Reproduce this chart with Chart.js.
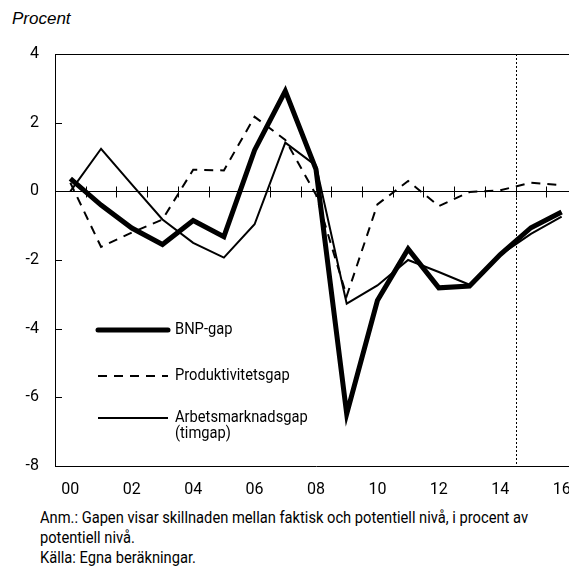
<!DOCTYPE html>
<html>
<head>
<meta charset="utf-8">
<script src="https://cdn.jsdelivr.net/npm/chart.js@4"></script>
<style>
  html, body { margin: 0; padding: 0; background: #fff; }
  body { width: 569px; height: 570px; overflow: hidden; position: relative; }
  #unit { position: absolute; left: 12px; top: 9px; font: italic 17px "Liberation Sans", Arial, sans-serif; color: #000; }
  #wrap { position: absolute; left: 0; top: 0; width: 578px; height: 506px; }
  #note { position: absolute; left: 40px; top: 508px; font: 16px Roboto, sans-serif; line-height: 20px; color: #000;
          white-space: nowrap; transform-origin: 0 0; }
</style>
</head>
<body>
<div id="unit">Procent</div>
<div id="wrap"><canvas id="gapChart" width="578" height="506"></canvas></div>
<div id="note"><span id="noteFirst">Anm.: Gapen visar skillnaden mellan faktisk och potentiell nivå, i procent av</span><br>potentiell nivå.<br>Källa: Egna beräkningar.</div>
<script>
// år 2000-2016
const years = ['00','01','02','03','04','05','06','07','08','09','10','11','12','13','14','15','16'];
const bnpGap  = [0.37, -0.40, -1.07, -1.55, -0.85, -1.32, 1.20, 2.92, 0.64, -6.48, -3.18, -1.68, -2.81, -2.76, -1.84, -1.06, -0.60];
const prodGap = [0.25, -1.62, -1.20, -0.82, 0.63, 0.61, 2.17, 1.50, -0.10, -3.05, -0.38, 0.30, -0.43, -0.02, 0.03, 0.25, 0.18];
const arbGap  = [0.00, 1.24, 0.20, -0.82, -1.50, -1.93, -0.96, 1.42, 0.75, -3.27, -2.74, -2.00, -2.35, -2.72, -1.85, -1.24, -0.74];
const forecastFrom = '15';   // prognos efter streckad linje

const textFont = 'Roboto, sans-serif';

// originalet har ett smalt typsnitt, vi trycker ihop Roboto lite
const note = document.getElementById('note');
const squeeze = 488 / document.getElementById('noteFirst').getBoundingClientRect().width;
note.style.transform = 'scaleX(' + squeeze + ')';

// nollinje, små streck, ram upptill och prognoslinje
const decorations = {
  id: 'decorations',
  beforeDatasetsDraw(chart) {
    const { ctx, chartArea: a, scales: { x, y } } = chart;
    ctx.save();
    ctx.strokeStyle = '#000';
    ctx.lineWidth = 1;

    ctx.beginPath();
    ctx.moveTo(a.left, a.top + 0.5);
    ctx.lineTo(a.right, a.top + 0.5);
    y.ticks.forEach(t => {
      const py = Math.round(y.getPixelForValue(t.value)) + 0.5;
      ctx.moveTo(a.left, py);
      ctx.lineTo(a.left + 7, py);
    });
    const y0 = Math.round(y.getPixelForValue(0)) + 0.5;
    ctx.moveTo(a.left, y0);
    ctx.lineTo(a.right, y0);
    for (let i = 1; i < years.length; i++) {
      const px = Math.round((x.getPixelForValue(i - 1) + x.getPixelForValue(i)) / 2) + 0.5;
      ctx.moveTo(px, y0 - 5);
      ctx.lineTo(px, y0 + 6);
    }
    ctx.stroke();

    const fi = years.indexOf(forecastFrom);
    const fx = Math.round((x.getPixelForValue(fi - 1) + x.getPixelForValue(fi)) / 2) + 0.5;
    ctx.setLineDash([2, 2]);
    ctx.beginPath();
    ctx.moveTo(fx, a.top);
    ctx.lineTo(fx, a.bottom);
    ctx.stroke();
    ctx.restore();
  }
};

// förklaring inne i diagrammet
const innerLegend = {
  id: 'innerLegend',
  afterDraw(chart) {
    const { ctx, chartArea: a } = chart;
    const x1 = a.left + 43, x2 = a.left + 113;
    const rows = [
      { ds: 0, y: 330, text: ['BNP-gap'] },
      { ds: 1, y: 376, text: ['Produktivitetsgap'] },
      { ds: 2, y: 418, text: ['Arbetsmarknadsgap', '(timgap)'] }
    ];
    ctx.save();
    rows.forEach(r => {
      const d = chart.data.datasets[r.ds];
      ctx.strokeStyle = '#000';
      ctx.lineWidth = d.borderWidth;
      ctx.lineCap = r.ds === 0 ? 'round' : 'butt';
      ctx.setLineDash(d.borderDash || []);
      ctx.beginPath();
      ctx.moveTo(x1, r.y);
      ctx.lineTo(x2, r.y);
      ctx.stroke();
      ctx.setLineDash([]);
      ctx.fillStyle = '#000';
      ctx.font = '16px ' + textFont;
      ctx.textBaseline = 'middle';
      r.text.forEach((t, k) => {
        ctx.save();
        ctx.translate(x2 + 7, r.y + k * 16);
        ctx.scale(squeeze, 1);
        ctx.fillText(t, 0, 0);
        ctx.restore();
      });
    });
    ctx.restore();
  }
};

new Chart(document.getElementById('gapChart').getContext('2d'), {
  type: 'line',
  data: {
    labels: years,
    datasets: [
      { label: 'BNP-gap', data: bnpGap, borderColor: '#000', borderWidth: 5, pointRadius: 0, tension: 0 },
      { label: 'Produktivitetsgap', data: prodGap, borderColor: '#000', borderWidth: 2, borderDash: [9, 7], pointRadius: 0, tension: 0 },
      { label: 'Arbetsmarknadsgap (timgap)', data: arbGap, borderColor: '#000', borderWidth: 2, pointRadius: 0, tension: 0 }
    ]
  },
  options: {
    responsive: false,
    animation: false,
    layout: { padding: { top: 54, right: 1, left: 0, bottom: 0 } },
    plugins: { legend: { display: false }, tooltip: { enabled: false } },
    scales: {
      x: {
        offset: true,
        grid: { display: false, drawTicks: true, tickLength: 14 },
        border: { display: true, color: '#000', width: 1 },
        ticks: {
          autoSkip: false, maxRotation: 0, padding: 0, color: '#000',
          font: { family: textFont, size: 16 },
          callback: (v, i) => (i % 2 === 0 ? years[i] : '')
        },
        afterFit: s => { s.height = 40; }
      },
      y: {
        min: -8, max: 4,
        grid: { display: false, drawTicks: false },
        border: { display: true, color: '#000', width: 1 },
        ticks: { stepSize: 2, padding: 16, color: '#000', font: { family: textFont, size: 16 } },
        afterFit: s => { s.width = 55; }
      }
    }
  },
  plugins: [decorations, innerLegend]
});
</script>
</body>
</html>
